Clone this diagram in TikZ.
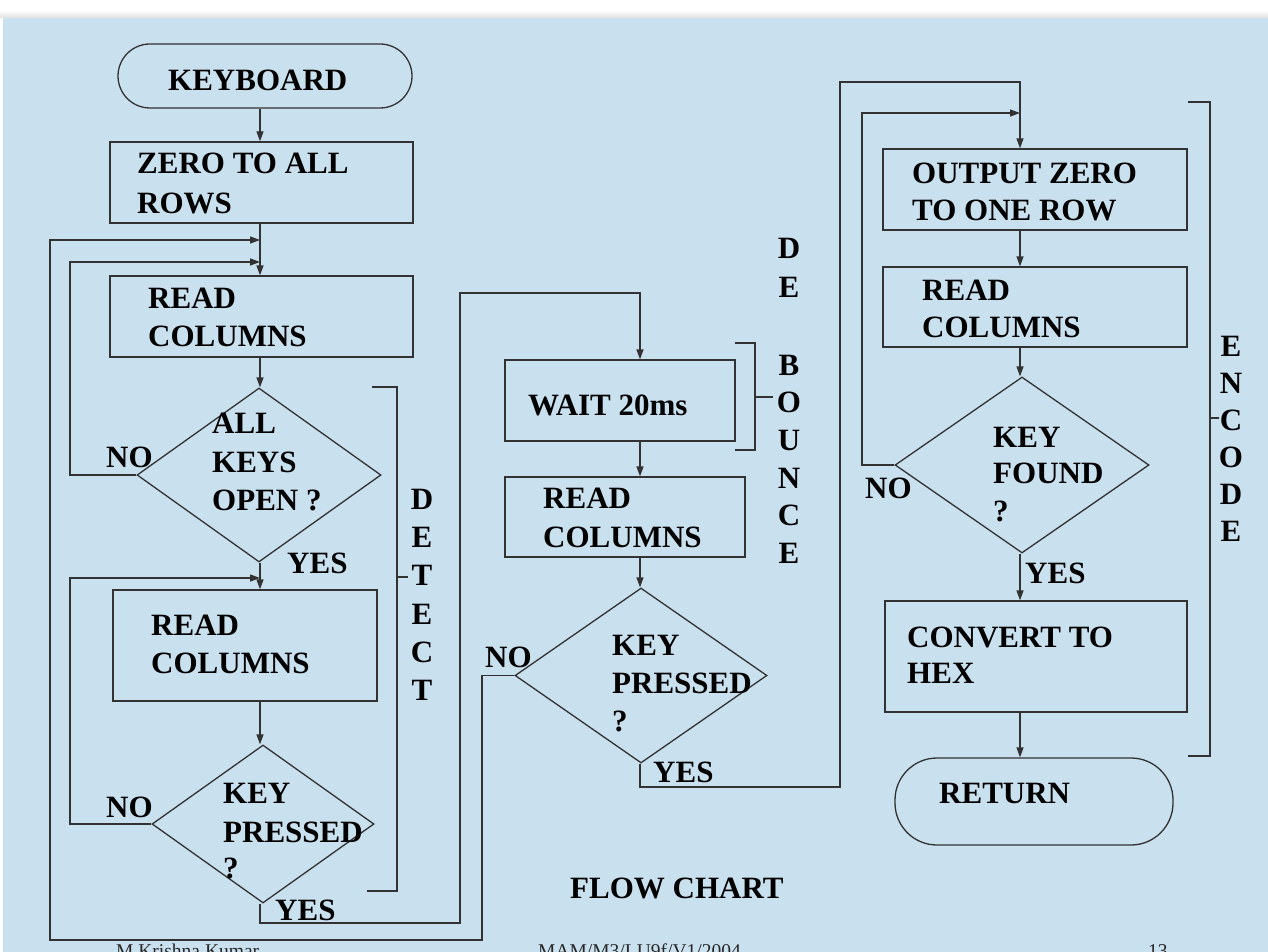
\documentclass[tikz,border=0pt]{standalone}
\usepackage{fontspec}
\setmainfont{Liberation Serif}
\usetikzlibrary{arrows.meta,shapes.geometric}
\definecolor{bgblue}{RGB}{201,224,238}
\definecolor{ln}{RGB}{50,50,50}
\begin{document}
\begin{tikzpicture}[x=1pt,y=-1pt,
  conn/.style={draw=ln,line width=1.3pt},
  arr/.style={conn,-{Triangle[length=10pt,width=7pt]}},
  box/.style={conn,rectangle,inner sep=0pt},
  dia/.style={conn,diamond,inner sep=0pt},
  lbl/.style={font=\fontsize{31}{37}\selectfont\bfseries,text=black,inner sep=0pt,anchor=base west},
  vlet/.style={font=\fontsize{31}{37}\selectfont\bfseries,text=black,inner sep=0pt,anchor=base},
  foot/.style={font=\fontsize{19.5}{22}\selectfont,text=black!85,inner sep=0pt,anchor=base west}
]
\useasboundingbox (0,0) rectangle (1268,952);
\clip (0,0) rectangle (1268,952);
\fill[white] (0,0) rectangle (1268,952);
\fill[bgblue] (3,18) rectangle (1268,952);
\shade[top color=white, bottom color=black!12] (0,10) rectangle (1268,18);

% column coordinates
\coordinate (c1) at (260,0);
\coordinate (c3) at (640,0);
\coordinate (c5) at (1020,0);

% nodes
\node[box,rounded corners=32pt,minimum width=294pt,minimum height=64pt] (kb) at (265,76) {};
\node[box,minimum width=303pt,minimum height=81pt] (zero) at (261.5,182.5) {};
\node[box,minimum width=303pt,minimum height=81pt] (rc1) at (261.5,316.5) {};
\node[dia,minimum width=244pt,minimum height=174pt] (d1) at (259,475) {};
\node[box,minimum width=264pt,minimum height=111pt] (rc2) at (245,645.5) {};
\node[dia,minimum width=222pt,minimum height=158pt] (d2) at (263,824) {};

\node[box,minimum width=230pt,minimum height=81pt] (wait) at (620,400.5) {};
\node[box,minimum width=240pt,minimum height=80pt] (rc3) at (625,517) {};
\node[dia,minimum width=252pt,minimum height=175pt] (d3) at (641,675.5) {};

\node[box,minimum width=304pt,minimum height=81pt] (out) at (1035,189.5) {};
\node[box,minimum width=304pt,minimum height=80pt] (rc4) at (1035,307) {};
\node[dia,minimum width=254pt,minimum height=176pt] (d4) at (1022,465) {};
\node[box,minimum width=302pt,minimum height=111pt] (hex) at (1036,656.5) {};
\node[box,rounded corners=42pt,minimum width=278pt,minimum height=87pt] (ret) at (1034,801.5) {};

% texts
\node[lbl] (tkb) at (168,91) {KEYBOARD};
\node[lbl] (tz1) at (137,174) {ZERO TO ALL};
\node[lbl] (tz2) at (137,213) {ROWS};
\node[lbl] (tr1a) at (148,308) {READ};
\node[lbl] (tr1b) at (148,346) {COLUMNS};
\node[lbl] (td1a) at (212,433) {ALL};
\node[lbl] (td1b) at (212,472) {KEYS};
\node[lbl] (td1c) at (212,510) {OPEN ?};
\node[lbl] (no1) at (106,467) {NO};
\node[lbl] (yes1) at (287,573) {YES};
\node[lbl] (tr2a) at (151,635) {READ};
\node[lbl] (tr2b) at (151,673) {COLUMNS};
\node[lbl] (td2a) at (223,803) {KEY};
\node[lbl] (td2b) at (223,842) {PRESSED};
\node[lbl] (td2c) at (223,878) {?};
\node[lbl] (no2) at (106,817) {NO};
\node[lbl] (yes2) at (275,920) {YES};

\node[lbl] (tw) at (528,415) {WAIT 20ms};
\node[lbl] (tr3a) at (543,508) {READ};
\node[lbl] (tr3b) at (543,547) {COLUMNS};
\node[lbl] (td3a) at (612,655) {KEY};
\node[lbl] (td3b) at (612,693) {PRESSED};
\node[lbl] (td3c) at (612,731) {?};
\node[lbl] (no3) at (485,667) {NO};
\node[lbl] (yes3) at (653,782) {YES};

\node[lbl] (to1) at (912,183) {OUTPUT ZERO};
\node[lbl] (to2) at (912,220) {TO ONE ROW};
\node[lbl] (tr4a) at (922,300) {READ};
\node[lbl] (tr4b) at (922,337) {COLUMNS};
\node[lbl] (td4a) at (993,447) {KEY};
\node[lbl] (td4b) at (993,483) {FOUND};
\node[lbl] (td4c) at (993,521) {?};
\node[lbl] (no4) at (865,498) {NO};
\node[lbl] (yes4) at (1025,583) {YES};
\node[lbl] (th1) at (907,647) {CONVERT TO};
\node[lbl] (th2) at (907,683) {HEX};
\node[lbl] (tret) at (939,803) {RETURN};

\node[lbl] (title) at (570,898) {FLOW CHART};

% side letters
\foreach \l/\y [count=\i] in {D/509,E/547,T/585,E/624,C/662,T/700}
  \node[vlet] (det\i) at (422,\y) {\l};
\foreach \l/\y [count=\i] in {D/258,E/297,B/375,O/412,U/450,N/488,C/525,E/563}
  \node[vlet] (deb\i) at (789,\y) {\l};
\foreach \l/\y [count=\i] in {E/356,N/393,C/430,O/467,D/504,E/541}
  \node[vlet] (enc\i) at (1231,\y) {\l};

% footer
\node[foot] (f1) at (116,957) {M.Krishna Kumar};
\node[foot] (f2) at (538,957) {MAM/M3/LU9f/V1/2004};
\node[foot] (f3) at (1148,957) {13};

% connectors, column 1
\draw[arr] (kb.south -| c1) -- (zero.north -| c1);
\draw[arr] (zero.south -| c1) -- (rc1.north -| c1);
\draw[arr] (rc1.south -| c1) -- (d1.north -| c1);
\draw[arr] (d1.south -| c1) -- (rc2.north -| c1);
\draw[arr] (rc2.south -| c1) -- (d2.north -| c1);
\coordinate (l1) at (70,262);
\coordinate (j1) at (260,262);
\draw[arr] (d1.west) -| (l1) -- (j1);
\coordinate (l2) at (70,578);
\coordinate (j2) at (260,578);
\draw[arr] (d2.west) -| (l2) -- (j2);
\coordinate (p1) at (460,923);
\coordinate (p2) at (640,293);
\draw[arr] (d2.south -| c1) |- (p1) |- (p2) -- (wait.north -| c3);

% column 2
\draw[arr] (wait.south -| c3) -- (rc3.north -| c3);
\draw[arr] (rc3.south -| c3) -- (d3.north -| c3);
\coordinate (q1) at (482,940);
\coordinate (q2) at (50,240);
\coordinate (j0) at (260,240);
\draw[arr] (d3.west) -| (q1) -| (q2) -- (j0);
\coordinate (r1) at (840,787);
\coordinate (r2) at (1020,82);
\draw[arr] (d3.south -| c3) |- (r1) |- (r2) -- (out.north -| c5);

% column 3
\draw[arr] (out.south -| c5) -- (rc4.north -| c5);
\draw[arr] (rc4.south -| c5) -- (d4.north -| c5);
\coordinate (s1) at (862,113);
\coordinate (s2) at (1020,113);
\draw[arr] (d4.west) -| (s1) -- (s2);
\draw[arr] (d4.south -| c5) -- (hex.north -| c5);
\draw[arr] (hex.south -| c5) -- (ret.north -| c5);

% brackets
\draw[conn] (372,387) -- (397,387) -- (397,891) -- (367,891);
\draw[conn] (397,577) -- (408,577);
\draw[conn] (735,343) -- (755,343) -- (755,450) -- (735,450);
\draw[conn] (755,397) -- (773,397);
\draw[conn] (1188,102) -- (1210,102) -- (1210,756) -- (1188,756);
\draw[conn] (1210,418) -- (1219,418);
\end{tikzpicture}
\end{document}
